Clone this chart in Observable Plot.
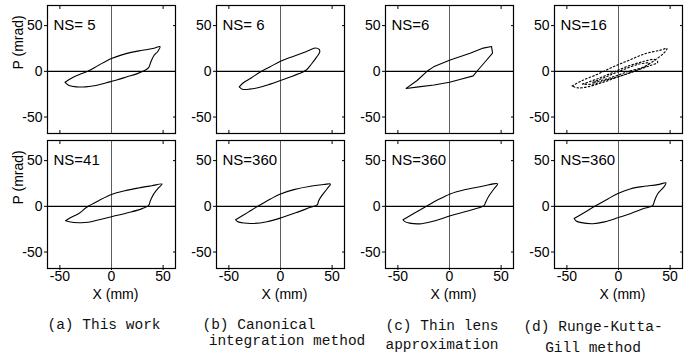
<!DOCTYPE html>
<html><head><meta charset="utf-8">
<script src="https://cdn.jsdelivr.net/npm/d3@7"></script>
<script src="https://cdn.jsdelivr.net/npm/@observablehq/plot@0.6"></script>
<style>
body{margin:0;background:#fff;}
#wrap{position:relative;width:694px;height:360px;overflow:hidden;background:#fff;}
.cap{position:absolute;font-family:"Liberation Mono",monospace;font-size:14.5px;white-space:pre;line-height:1;transform:translate(-50%,-50%);color:#111;}
</style></head><body><div id="wrap"></div>
<script>
// ---- data ----
const columns = ["a", "b", "c", "d"];
const rows = ["top", "bottom"];
const nsTop = ["NS= 5", "NS= 6", "NS=6", "NS=16"];
const nsBottom = ["NS=41", "NS=360", "NS=360", "NS=360"];
const xTicks = [-50, 0, 50];
const yTicks = [-50, 0, 50];
const captionLines = [
  ["(a) This work"],
  ["(b) Canonical", "integration method"],
  ["(c) Thin lens", "approximation"],
  ["(d) Runge-Kutta-", "Gill method"]
];

// phase-space curves [X (mm), P (mrad)]
const curveA5 = [[-45,-12],[-38,-7],[-30,-3],[-23,0],[-12,7],[0,14],[10,18],[20,21],[30,23],[40,25],[47,27],[45,22],[41,17],[38,10],[36,4],[32,1],[25,-2.5],[15,-6],[5,-9.5],[-5,-12.5],[-15,-15.5],[-25,-17],[-34,-17],[-41,-15.5],[-45,-12]];
const curveA41 = [[-44.5,-15.7],[-38,-11.5],[-31.6,-7.9],[-24,-1],[-12,6.5],[0,12.9],[13,17],[26,20],[39,22.5],[49,24.3],[46,20.7],[41,13.6],[37.7,6.4],[36,1],[29.7,-2.5],[16.8,-6.8],[0,-11.4],[-12.9,-15],[-22.6,-17.5],[-31.6,-17.9],[-41,-16.8],[-44.5,-15.7]];
const curveB6 = [[-40,-17],[-36,-12.5],[-28,-7],[-20,-1],[-10,5],[0,11],[10,15.5],[20,19.5],[28,23],[34,25.5],[37.5,24],[38,21],[35,15.5],[30,8],[25,1.5],[18,-2.5],[10,-6],[0,-10],[-10,-14],[-20,-17.5],[-30,-19.5],[-37,-19.5],[-40,-17]];
const curveB360 = [[-43.5,-14.7],[-31.6,-6.6],[-22,0],[-9.7,8],[0,13.6],[13,18.3],[29,22],[42,23.8],[48.4,24.5],[45,19],[40,11.7],[37,6.2],[35.5,1.5],[29,-1.1],[16,-6.6],[0,-12.8],[-13,-16.8],[-25.8,-18.7],[-35.5,-18.3],[-41.9,-16.5],[-43.5,-14.7]];
const curveC6 = [[-42,-18.7],[-31.4,-10],[-21.8,0],[-15.4,4.9],[0.6,12.3],[20,19.8],[32.7,25.4],[40.7,27.2],[41.7,20],[35,11],[28,2],[23,-5],[10,-9],[0,-12],[-15,-15],[-30,-17],[-42,-18.7]];
const curveC360 = [[-45,-14.7],[-33.8,-7.4],[-22.3,0],[-10.8,7.4],[0.7,13.6],[15.4,18.4],[31.8,22],[46.6,24.6],[43,19],[38,11],[35,4.4],[33.4,0.7],[22,-3.7],[0.7,-10.3],[-14,-15.8],[-27,-19],[-38.7,-18.4],[-43.6,-16.5],[-45,-14.7]];
const curveD360 = [[-43,-13.3],[-33,-6.7],[-23,0],[-10.3,8.1],[0,14.4],[12,19.3],[25,21.9],[38,23.7],[46,25.6],[44.5,21.9],[38,13.7],[35,6.3],[33,0.7],[25,-2.2],[12,-7.8],[0,-12.2],[-13.5,-17],[-25,-19],[-36,-17.8],[-41,-16],[-43,-13.3]];
// NS=16 Runge-Kutta-Gill: dotted, drifting loops
const dotsD16a = [[-45,-16],[-35,-10],[-20,-3],[-5,5],[10,12],[25,19],[40,23],[47,25],[44,20],[35,12],[25,5],[15,0],[0,-6],[-15,-12],[-30,-17],[-40,-18],[-45,-16]];
const dotsD16b = [[-35,-14],[-20,-8],[-5,-1],[10,6],[25,11],[35,13],[38,10],[30,6],[20,2],[5,-4],[-10,-9],[-25,-14],[-35,-14]];
const dotsD16c = [[-25,-12],[-10,-5],[5,2],[20,8],[30,9],[25,5],[10,0],[-5,-6],[-20,-11],[-25,-12]];

// ---- tables ----
function table(list) {
  return list.flatMap(([col, row, pts], i) => pts.map(([x, p]) => ({col, row, id: i, x, p})));
}
const smooth = table([
  ["a","top",curveA5],["a","bottom",curveA41],
  ["b","top",curveB6],["b","bottom",curveB360],
  ["c","bottom",curveC360],["d","bottom",curveD360]
]);
const polygonal = table([["c","top",curveC6]]);
const dotted = table([["d","top",dotsD16a],["d","top",dotsD16b],["d","top",dotsD16c]]);
const nsData = [
  ...columns.map((c, i) => ({col: c, row: "top", text: nsTop[i]})),
  ...columns.map((c, i) => ({col: c, row: "bottom", text: nsBottom[i]}))
];

const fmt = d => (d < 0 ? "-" + (-d) : String(d));
const noText = () => "";

const chart = Plot.plot({
  width: 694, height: 305,
  marginLeft: 46, marginRight: 12, marginTop: 5, marginBottom: 37,
  style: {fontFamily: "Liberation Sans, Arial, sans-serif", fontSize: "14px", color: "#000", background: "#fff"},
  x: {domain: [-62, 62]},
  y: {domain: [-68, 72]},
  fx: {domain: columns, paddingInner: 0.243, paddingOuter: 0, axis: null, label: null},
  fy: {domain: rows, paddingInner: 0.055, paddingOuter: 0, axis: null, label: null},
  marks: [
    Plot.ruleX([0], {stroke: "#333", strokeWidth: 0.8}),
    Plot.ruleY([0], {stroke: "#000", strokeWidth: 1.3}),
    Plot.frame({stroke: "#000", strokeWidth: 1.2}),
    Plot.axisY({ticks: yTicks, tickSize: 3, tickPadding: 2, tickFormat: fmt, label: null, facetAnchor: null}),
    Plot.axisY({anchor: "right", ticks: [-50, 50], tickSize: -3, tickFormat: noText, label: null, facetAnchor: null}),
    Plot.axisX({anchor: "top", ticks: [-50, 50], tickSize: -3, tickFormat: noText, label: null, facetAnchor: null}),
    Plot.axisX({anchor: "bottom", ticks: [-50, 50], tickSize: -3, tickFormat: noText, label: null, facetAnchor: null}),
    Plot.axisX({ticks: xTicks, tickSize: 2, tickPadding: 1, tickFormat: fmt, label: null}),
    Plot.line(smooth, {x: "x", y: "p", z: "id", fx: "col", fy: "row", curve: "catmull-rom", stroke: "#000", strokeWidth: 1.1}),
    Plot.line(polygonal, {x: "x", y: "p", z: "id", fx: "col", fy: "row", curve: "linear", stroke: "#000", strokeWidth: 1.1}),
    Plot.line(dotted, {x: "x", y: "p", z: "id", fx: "col", fy: "row", curve: "catmull-rom", stroke: "#000", strokeWidth: 1.1, strokeDasharray: "1.6,2.2"}),
    Plot.text(nsData, {fx: "col", fy: "row", text: "text", frameAnchor: "top-left", dx: 6, dy: 20, textAnchor: "start", lineAnchor: "middle", fontSize: 15}),
    Plot.text(rows, {fx: () => "a", fy: d => d, text: () => "P (mrad)", frameAnchor: "left", rotate: -90, dx: -29}),
    Plot.text(columns, {fx: d => d, fy: () => "bottom", text: () => "X (mm)", frameAnchor: "bottom", dy: 30, dx: 4})
  ]
});

const wrap = document.getElementById("wrap");
wrap.appendChild(chart);
chart.style.position = "absolute";
chart.style.left = "0px";
chart.style.top = "0px";

// caption layout (pixel centres of each line)
const capPos = [
  [[104, 325]],
  [[259, 325], [287, 341]],
  [[442, 326], [442, 345]],
  [[593, 327], [593, 348]]
];
captionLines.forEach((lines, i) => {
  lines.forEach((t, j) => {
    const d = document.createElement("div");
    d.className = "cap";
    d.textContent = t;
    d.style.left = capPos[i][j][0] + "px";
    d.style.top = capPos[i][j][1] + "px";
    wrap.appendChild(d);
  });
});
</script></body></html>
